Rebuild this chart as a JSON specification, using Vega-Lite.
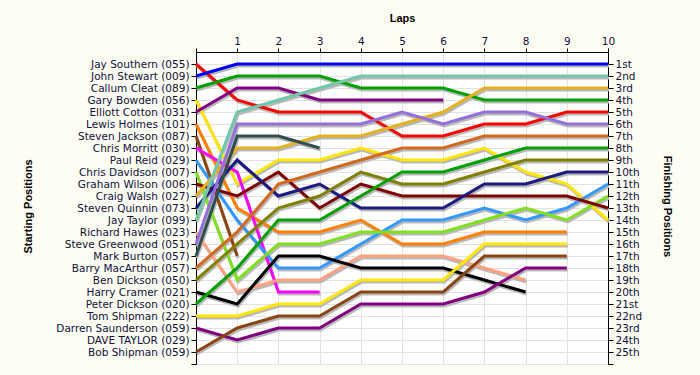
{
"$schema":"https://vega.github.io/schema/vega-lite/v6.json",
"width":412,"height":312,
"autosize":{"type":"none"},
"padding":{"left":196,"top":52,"right":92,"bottom":11},
"background":"#fdfdf4",
"config":{"view":{"stroke":null,"fill":"#ffffff"}},
"data":{"values":[
{"s":1,"l":0,"p":1},{"s":1,"l":1,"p":4},{"s":1,"l":2,"p":5},{"s":1,"l":3,"p":5},{"s":1,"l":4,"p":5},{"s":1,"l":5,"p":7},{"s":1,"l":6,"p":7},{"s":1,"l":7,"p":6},{"s":1,"l":8,"p":6},{"s":1,"l":9,"p":5},{"s":1,"l":10,"p":5},
{"s":2,"l":0,"p":2},{"s":2,"l":1,"p":1},{"s":2,"l":2,"p":1},{"s":2,"l":3,"p":1},{"s":2,"l":4,"p":1},{"s":2,"l":5,"p":1},{"s":2,"l":6,"p":1},{"s":2,"l":7,"p":1},{"s":2,"l":8,"p":1},{"s":2,"l":9,"p":1},{"s":2,"l":10,"p":1},
{"s":3,"l":0,"p":3},{"s":3,"l":1,"p":2},{"s":3,"l":2,"p":2},{"s":3,"l":3,"p":2},{"s":3,"l":4,"p":3},{"s":3,"l":5,"p":3},{"s":3,"l":6,"p":3},{"s":3,"l":7,"p":4},{"s":3,"l":8,"p":4},{"s":3,"l":9,"p":4},{"s":3,"l":10,"p":4},
{"s":4,"l":0,"p":4},{"s":4,"l":1,"p":11},{"s":4,"l":2,"p":9},{"s":4,"l":3,"p":9},{"s":4,"l":4,"p":8},{"s":4,"l":5,"p":9},{"s":4,"l":6,"p":9},{"s":4,"l":7,"p":8},{"s":4,"l":8,"p":10},{"s":4,"l":9,"p":11},{"s":4,"l":10,"p":14},
{"s":5,"l":0,"p":5},{"s":5,"l":1,"p":3},{"s":5,"l":2,"p":3},{"s":5,"l":3,"p":4},{"s":5,"l":4,"p":4},{"s":5,"l":5,"p":4},{"s":5,"l":6,"p":4},
{"s":6,"l":0,"p":6},{"s":6,"l":1,"p":13},{"s":6,"l":2,"p":15},{"s":6,"l":3,"p":15},{"s":6,"l":4,"p":14},{"s":6,"l":5,"p":16},{"s":6,"l":6,"p":16},{"s":6,"l":7,"p":15},{"s":6,"l":8,"p":15},{"s":6,"l":9,"p":15},
{"s":7,"l":0,"p":7},{"s":7,"l":1,"p":17},
{"s":8,"l":0,"p":8},{"s":8,"l":1,"p":10},{"s":8,"l":2,"p":20},{"s":8,"l":3,"p":20},
{"s":9,"l":0,"p":9},{"s":9,"l":1,"p":14},{"s":9,"l":2,"p":18},{"s":9,"l":3,"p":18},{"s":9,"l":4,"p":16},{"s":9,"l":5,"p":14},{"s":9,"l":6,"p":14},{"s":9,"l":7,"p":13},{"s":9,"l":8,"p":14},{"s":9,"l":9,"p":13},{"s":9,"l":10,"p":11},
{"s":10,"l":0,"p":10},{"s":10,"l":1,"p":19},{"s":10,"l":2,"p":16},{"s":10,"l":3,"p":16},{"s":10,"l":4,"p":15},{"s":10,"l":5,"p":15},{"s":10,"l":6,"p":15},{"s":10,"l":7,"p":14},{"s":10,"l":8,"p":13},{"s":10,"l":9,"p":14},{"s":10,"l":10,"p":12},
{"s":11,"l":0,"p":11},{"s":11,"l":1,"p":12},{"s":11,"l":2,"p":10},{"s":11,"l":3,"p":13},{"s":11,"l":4,"p":11},{"s":11,"l":5,"p":12},{"s":11,"l":6,"p":12},{"s":11,"l":7,"p":12},{"s":11,"l":8,"p":12},{"s":11,"l":9,"p":12},{"s":11,"l":10,"p":13},
{"s":12,"l":0,"p":12},{"s":12,"l":1,"p":8},{"s":12,"l":2,"p":8},{"s":12,"l":3,"p":7},{"s":12,"l":4,"p":7},{"s":12,"l":5,"p":6},{"s":12,"l":6,"p":5},{"s":12,"l":7,"p":3},{"s":12,"l":8,"p":3},{"s":12,"l":9,"p":3},{"s":12,"l":10,"p":3},
{"s":13,"l":0,"p":13},{"s":13,"l":1,"p":9},{"s":13,"l":2,"p":12},{"s":13,"l":3,"p":11},{"s":13,"l":4,"p":13},{"s":13,"l":5,"p":13},{"s":13,"l":6,"p":13},{"s":13,"l":7,"p":11},{"s":13,"l":8,"p":11},{"s":13,"l":9,"p":10},{"s":13,"l":10,"p":10},
{"s":14,"l":0,"p":14},{"s":14,"l":1,"p":5},{"s":14,"l":2,"p":4},{"s":14,"l":3,"p":3},{"s":14,"l":4,"p":2},{"s":14,"l":5,"p":2},{"s":14,"l":6,"p":2},{"s":14,"l":7,"p":2},{"s":14,"l":8,"p":2},{"s":14,"l":9,"p":2},{"s":14,"l":10,"p":2},
{"s":15,"l":0,"p":15},{"s":15,"l":1,"p":20},{"s":15,"l":2,"p":19},{"s":15,"l":3,"p":19},{"s":15,"l":4,"p":17},{"s":15,"l":5,"p":17},{"s":15,"l":6,"p":17},{"s":15,"l":7,"p":18},{"s":15,"l":8,"p":19},
{"s":16,"l":0,"p":16},{"s":16,"l":1,"p":6},{"s":16,"l":2,"p":6},{"s":16,"l":3,"p":6},{"s":16,"l":4,"p":6},{"s":16,"l":5,"p":5},{"s":16,"l":6,"p":6},{"s":16,"l":7,"p":5},{"s":16,"l":8,"p":5},{"s":16,"l":9,"p":6},{"s":16,"l":10,"p":6},
{"s":17,"l":0,"p":17},{"s":17,"l":1,"p":7},{"s":17,"l":2,"p":7},{"s":17,"l":3,"p":8},
{"s":18,"l":0,"p":18},{"s":18,"l":1,"p":15},{"s":18,"l":2,"p":11},{"s":18,"l":3,"p":10},{"s":18,"l":4,"p":9},{"s":18,"l":5,"p":8},{"s":18,"l":6,"p":8},{"s":18,"l":7,"p":7},{"s":18,"l":8,"p":7},{"s":18,"l":9,"p":7},{"s":18,"l":10,"p":7},
{"s":19,"l":0,"p":19},{"s":19,"l":1,"p":16},{"s":19,"l":2,"p":13},{"s":19,"l":3,"p":12},{"s":19,"l":4,"p":10},{"s":19,"l":5,"p":11},{"s":19,"l":6,"p":11},{"s":19,"l":7,"p":10},{"s":19,"l":8,"p":9},{"s":19,"l":9,"p":9},{"s":19,"l":10,"p":9},
{"s":20,"l":0,"p":20},{"s":20,"l":1,"p":21},{"s":20,"l":2,"p":17},{"s":20,"l":3,"p":17},{"s":20,"l":4,"p":18},{"s":20,"l":5,"p":18},{"s":20,"l":6,"p":18},{"s":20,"l":7,"p":19},{"s":20,"l":8,"p":20},
{"s":21,"l":0,"p":21},{"s":21,"l":1,"p":18},{"s":21,"l":2,"p":14},{"s":21,"l":3,"p":14},{"s":21,"l":4,"p":12},{"s":21,"l":5,"p":10},{"s":21,"l":6,"p":10},{"s":21,"l":7,"p":9},{"s":21,"l":8,"p":8},{"s":21,"l":9,"p":8},{"s":21,"l":10,"p":8},
{"s":22,"l":0,"p":22},{"s":22,"l":1,"p":22},{"s":22,"l":2,"p":21},{"s":22,"l":3,"p":21},{"s":22,"l":4,"p":19},{"s":22,"l":5,"p":19},{"s":22,"l":6,"p":19},{"s":22,"l":7,"p":16},{"s":22,"l":8,"p":16},{"s":22,"l":9,"p":16},
{"s":23,"l":0,"p":23},{"s":23,"l":1,"p":24},{"s":23,"l":2,"p":23},{"s":23,"l":3,"p":23},{"s":23,"l":4,"p":21},{"s":23,"l":5,"p":21},{"s":23,"l":6,"p":21},{"s":23,"l":7,"p":20},{"s":23,"l":8,"p":18},{"s":23,"l":9,"p":18},
{"s":25,"l":0,"p":25},{"s":25,"l":1,"p":23},{"s":25,"l":2,"p":22},{"s":25,"l":3,"p":22},{"s":25,"l":4,"p":20},{"s":25,"l":5,"p":20},{"s":25,"l":6,"p":20},{"s":25,"l":7,"p":17},{"s":25,"l":8,"p":17},{"s":25,"l":9,"p":17}
]},
"encoding":{
"x":{"field":"l","type":"quantitative","scale":{"domain":[0,10],"nice":false,"zero":false},
"axis":{"orient":"top","values":[0,1,2,3,4,5,6,7,8,9,10],"labelExpr":"datum.value==0?'':datum.label","title":"Laps","titleFont":"Liberation Sans","titleFontSize":11,"titleFontWeight":"bold","titleColor":"#000000","titleY":-34,"titleBaseline":"middle","labelFont":"DejaVu Sans","labelFontSize":10.5,"labelColor":"#10103a","labelPadding":2,"tickSize":4,"tickColor":"#000000","domainColor":"#000000","grid":true,"gridColor":"#e2e2e2","labelFlush":false}}
},
"layer":[
{"mark":{"type":"line","stroke":"#b8b8b8","strokeWidth":3,"xOffset":1,"yOffset":2},
"encoding":{"detail":{"field":"s","type":"nominal"},
"y":{"field":"p","type":"quantitative","scale":{"domain":[0,26],"reverse":true,"nice":false,"zero":false},
"axis":{"orient":"left","values":[1,2,3,4,5,6,7,8,9,10,11,12,13,14,15,16,17,18,19,20,21,22,23,24,25,26],
"labelExpr":"['','Jay Southern (055)','John Stewart (009)','Callum Cleat (089)','Gary Bowden (056)','Elliott Cotton (031)','Lewis Holmes (101)','Steven Jackson (087)','Chris Morritt (030)','Paul Reid (029)','Chris Davidson (007)','Graham Wilson (006)','Craig Walsh (027)','Steven Quinnin (073)','Jay Taylor (099)','Richard Hawes (023)','Steve Greenwood (051)','Mark Burton (057)','Barry MacArthur (057)','Ben Dickson (050)','Harry Cramer (021)','Peter Dickson (020)','Tom Shipman (222)','Darren Saunderson (059)','DAVE TAYLOR (029)','Bob Shipman (059)',''][datum.value]",
"labelFont":"DejaVu Sans","labelFontSize":10.5,"labelColor":"#10103a","labelPadding":2,"tickSize":5,"tickColor":"#000000","domainColor":"#000000","grid":true,"gridColor":"#e2e2e2",
"title":"Starting Positions","titleFont":"Liberation Sans","titleFontSize":11,"titleFontWeight":"bold","titleColor":"#000000","titleX":-168,"titleY":154,"titleAngle":-90,"titleAlign":"center","titleBaseline":"middle"}}}},
{"mark":{"type":"line","strokeWidth":3},
"encoding":{
"color":{"field":"s","type":"nominal","legend":null,"scale":{"domain":[1,2,3,4,5,6,7,8,9,10,11,12,13,14,15,16,17,18,19,20,21,22,23,25],
"range":["#ff0000","#0000ff","#00a000","#ffe600","#800080","#ff8000","#8b4513","#ff00ff","#3399ff","#80e020","#800000","#e6b020","#1a1a80","#70c8a8","#ffa080","#9370db","#2f4f4f","#d2691e","#808000","#000000","#00a000","#ffe600","#800080","#8b4513"]}},
"y":{"field":"p","type":"quantitative","scale":{"domain":[0,26],"reverse":true,"nice":false,"zero":false},
"axis":{"orient":"right","values":[1,2,3,4,5,6,7,8,9,10,11,12,13,14,15,16,17,18,19,20,21,22,23,24,25,26],
"labelExpr":"['','1st','2nd','3rd','4th','5th','6th','7th','8th','9th','10th','11th','12th','13th','14th','15th','16th','17th','18th','19th','20th','21st','22nd','23rd','24th','25th',''][datum.value]",
"labelFont":"DejaVu Sans","labelFontSize":10.5,"labelColor":"#10103a","labelPadding":2,"tickSize":5,"tickColor":"#000000","domainColor":"#000000","grid":false,
"title":"Finishing Positions","titleFont":"Liberation Sans","titleFontSize":11,"titleFontWeight":"bold","titleColor":"#000000","titleX":58,"titleY":154,"titleAngle":90,"titleAlign":"center","titleBaseline":"middle"}}}}
],
"resolve":{"scale":{"y":"independent"}}
}
